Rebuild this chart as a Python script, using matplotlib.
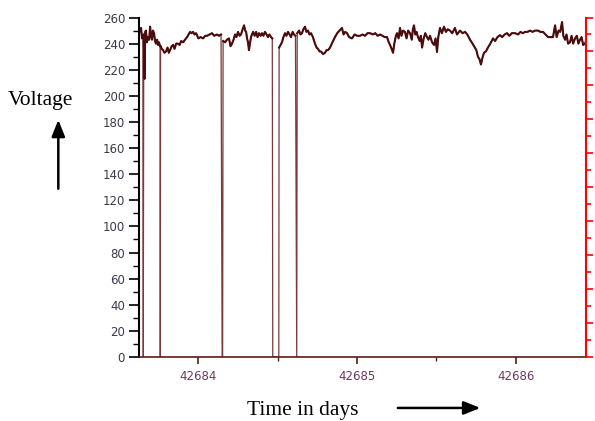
import numpy as np
import matplotlib
matplotlib.use("Agg")
import matplotlib.pyplot as plt
from matplotlib.ticker import MultipleLocator

# Logged supply voltage (time as spreadsheet day number, volts)
times = [
    42683.626, 42683.632, 42683.639, 42683.645, 42683.650, 42683.653, 42683.656, 42683.661,
    42683.665, 42683.670, 42683.676, 42683.683, 42683.690, 42683.696, 42683.702, 42683.708,
    42683.714, 42683.721, 42683.727, 42683.733, 42683.740, 42683.746, 42683.752, 42683.759,
    42683.760, 42683.762, 42683.770, 42683.778, 42683.786, 42683.796, 42683.806, 42683.814,
    42683.822, 42683.832, 42683.841, 42683.850, 42683.860, 42683.872, 42683.882, 42683.892,
    42683.904, 42683.916, 42683.929, 42683.938, 42683.948, 42683.957, 42683.967, 42683.976,
    42683.986, 42684.000, 42684.015, 42684.030, 42684.043, 42684.055, 42684.070, 42684.086,
    42684.100, 42684.118, 42684.130, 42684.143, 42684.150, 42684.153, 42684.156, 42684.168,
    42684.180, 42684.193, 42684.203, 42684.212, 42684.222, 42684.231, 42684.240, 42684.250,
    42684.260, 42684.269, 42684.279, 42684.288, 42684.295, 42684.301, 42684.307, 42684.313,
    42684.319, 42684.325, 42684.332, 42684.338, 42684.345, 42684.355, 42684.364, 42684.373,
    42684.382, 42684.392, 42684.401, 42684.410, 42684.420, 42684.430, 42684.439, 42684.448,
    42684.458, 42684.466, 42684.469, 42684.507, 42684.509, 42684.518, 42684.527, 42684.536,
    42684.546, 42684.555, 42684.565, 42684.575, 42684.584, 42684.594, 42684.603, 42684.612,
    42684.620, 42684.623, 42684.635, 42684.644, 42684.653, 42684.662, 42684.672, 42684.681,
    42684.691, 42684.700, 42684.710, 42684.722, 42684.735, 42684.745, 42684.754, 42684.764,
    42684.773, 42684.786, 42684.798, 42684.808, 42684.817, 42684.830, 42684.845, 42684.861,
    42684.875, 42684.890, 42684.905, 42684.915, 42684.925, 42684.937, 42684.950, 42684.968,
    42684.985, 42685.000, 42685.019, 42685.035, 42685.050, 42685.066, 42685.082, 42685.100,
    42685.115, 42685.130, 42685.145, 42685.160, 42685.175, 42685.189, 42685.200, 42685.208,
    42685.218, 42685.227, 42685.235, 42685.245, 42685.252, 42685.262, 42685.271, 42685.280,
    42685.290, 42685.302, 42685.312, 42685.322, 42685.334, 42685.345, 42685.352, 42685.359,
    42685.367, 42685.375, 42685.384, 42685.395, 42685.402, 42685.410, 42685.420, 42685.430,
    42685.441, 42685.450, 42685.460, 42685.473, 42685.485, 42685.495, 42685.504, 42685.512,
    42685.523, 42685.535, 42685.548, 42685.560, 42685.572, 42685.586, 42685.600, 42685.617,
    42685.630, 42685.649, 42685.665, 42685.681, 42685.695, 42685.712, 42685.728, 42685.744,
    42685.752, 42685.762, 42685.772, 42685.781, 42685.790, 42685.800, 42685.812, 42685.825,
    42685.840, 42685.857, 42685.870, 42685.885, 42685.901, 42685.915, 42685.930, 42685.945,
    42685.960, 42685.975, 42685.996, 42686.015, 42686.030, 42686.045, 42686.059, 42686.075,
    42686.090, 42686.106, 42686.122, 42686.140, 42686.155, 42686.172, 42686.188, 42686.204,
    42686.220, 42686.235, 42686.248, 42686.258, 42686.270, 42686.280, 42686.292, 42686.300,
    42686.311, 42686.320, 42686.330, 42686.342, 42686.352, 42686.362, 42686.374, 42686.385,
    42686.395, 42686.405, 42686.415, 42686.425, 42686.437, 42686.443,
]
volts = [
    248, 251, 252, 244, 246, 0, 247, 213,
    249, 250, 241, 245, 243, 253, 246, 243,
    250, 248, 242, 240, 243, 239, 241, 238,
    0, 238, 236, 235, 233, 234, 237, 233,
    235, 238, 239, 236, 240, 240, 239, 242,
    241, 243, 245, 247, 249, 248, 249, 247,
    248, 244, 245, 244, 246, 246, 247, 248,
    246, 247, 246, 247, 0, 0, 242, 241,
    243, 244, 238, 240, 243, 247, 245, 249,
    246, 247, 251, 254, 250, 249, 244, 241,
    235, 240, 245, 247, 249, 246, 249, 245,
    248, 246, 248, 246, 249, 247, 245, 247,
    245, 244, 0, 0, 237, 239, 241, 245,
    248, 246, 249, 247, 245, 249, 247, 246,
    0, 248, 250, 247, 248, 251, 253, 249,
    250, 247, 248, 245, 240, 237, 236, 234,
    234, 232, 233, 235, 235, 237, 241, 245,
    248, 250, 252, 247, 249, 248, 245, 244,
    247, 246, 246, 247, 246, 248, 248, 247,
    248, 246, 247, 246, 245, 245, 241, 239,
    236, 233, 240, 246, 248, 244, 252, 246,
    250, 249, 244, 250, 248, 243, 251, 254,
    247, 249, 245, 242, 246, 237, 244, 248,
    245, 243, 246, 241, 239, 244, 233.6, 245,
    252, 248, 253, 249, 251, 250, 248, 252,
    247, 250, 248, 249, 247, 243, 240, 236.6,
    235, 230, 228, 224, 229, 233, 234, 237,
    240, 244, 242, 245, 246.5, 245, 247, 248,
    246, 248, 248, 247, 249, 248, 249, 249,
    250, 249, 250, 250, 249, 249, 247, 245,
    245, 245, 254, 245, 250, 249, 256.5, 246,
    243, 247, 240, 241, 246, 240, 244, 246,
    240, 243, 245, 239, 240, 242,
]
day_ticks = [42684, 42685, 42686]

fig = plt.figure(figsize=(5.95, 4.21), dpi=100)
ax = fig.add_axes([0.2336, 0.152, 0.7513, 0.8064])

# full record incl. outages (thin), then the supply trace on top (heavier)
t = np.array(times)
v = np.array(volts, dtype=float)
ax.plot(t, v, color="#7a3a3a", lw=0.9)
v_on = np.where(v > 0, v, np.nan)
ax.plot(t, v_on, color="#4a0c0c", lw=1.5)

ax.set_xlim(42683.626, 42686.443)
ax.set_ylim(0, 260)

ax.yaxis.set_major_locator(MultipleLocator(20))
ax.yaxis.set_minor_locator(MultipleLocator(10))
ax.set_xticks(day_ticks)
ax.set_xticklabels([str(d) for d in day_ticks])
ax.xaxis.set_minor_locator(MultipleLocator(0.5))

ax.tick_params(axis="y", which="major", length=7, width=1.2, color="black",
               labelsize=8.5, labelcolor="#3a3a4a", pad=3)
ax.tick_params(axis="y", which="minor", length=4, width=1.0, color="black")
ax.tick_params(axis="x", which="major", length=5, width=1.2, color="#5a1a1a",
               labelsize=8.5, labelcolor="#6a3a5a", pad=4)
ax.tick_params(axis="x", which="minor", length=3, width=1.0, color="#5a1a1a")

ax.spines["top"].set_visible(False)
ax.spines["right"].set_visible(False)
ax.spines["left"].set_linewidth(1.5)
ax.spines["left"].set_color("black")
ax.spines["bottom"].set_linewidth(1.2)
ax.spines["bottom"].set_color("#5a1a1a")

# empty secondary axis on the right, red
ax2 = ax.twinx()
ax2.set_ylim(0, 100)
ax2.yaxis.set_major_locator(MultipleLocator(10))
ax2.yaxis.set_minor_locator(MultipleLocator(5))
ax2.tick_params(axis="y", which="major", length=5, width=1.2, color="red",
                labelright=False)
ax2.tick_params(axis="y", which="minor", length=3.5, width=1.2, color="red")
for side in ["top", "left", "bottom"]:
    ax2.spines[side].set_visible(False)
ax2.spines["right"].set_color("red")
ax2.spines["right"].set_linewidth(1.5)

serif = "Liberation Serif"
fig.text(0.068, 0.762, "Voltage", fontsize=15.5, family=serif, ha="center", va="center")
fig.text(0.508, 0.026, "Time in days", fontsize=15.5, family=serif, ha="center", va="center")

arrow = dict(arrowstyle="-|>,head_width=0.4,head_length=1.0", color="black", lw=1.8)
ax.annotate("", xy=(0.098, 0.722), xytext=(0.098, 0.545),
            xycoords="figure fraction", textcoords="figure fraction", arrowprops=arrow)
ax.annotate("", xy=(0.812, 0.031), xytext=(0.664, 0.031),
            xycoords="figure fraction", textcoords="figure fraction", arrowprops=arrow)

fig.savefig("out.png", dpi=100)
